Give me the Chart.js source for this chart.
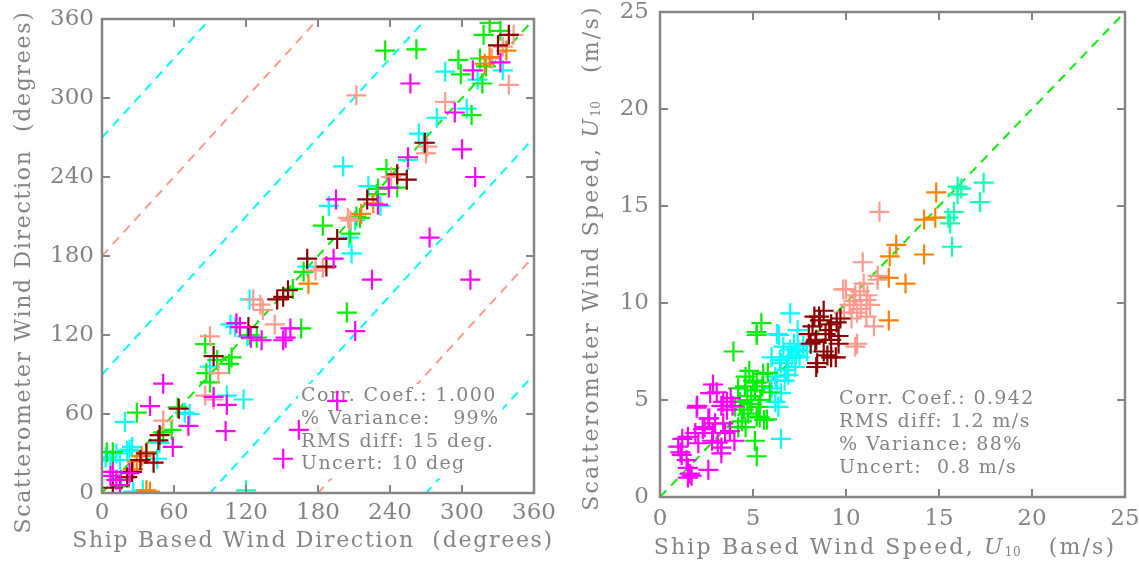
<!DOCTYPE html>
<html>
<head>
<meta charset="utf-8">
<title>Scatterometer vs ship winds</title>
<script src="https://cdn.jsdelivr.net/npm/chart.js@4.4.1/dist/chart.umd.min.js"></script>
<style>
    html, body { margin: 0; padding: 0; background: #fff; }
    #wrap { position: relative; width: 1139px; height: 566px; }
    canvas { position: absolute; top: 0; }
    #dirChart { left: 0; }
    #spdChart { left: 570px; }
</style>
</head>
<body>
<div id="wrap">
    <canvas id="dirChart" width="570" height="566"></canvas>
    <canvas id="spdChart" width="569" height="566"></canvas>
</div>
<script>
// ---- Wind direction (degrees): [ship, scatterometer], grouped by speed class colour
const dirMagenta = [[257,311],[294,289],[300,261],[311,240],[273,194],[307,162],[225,162],[211,123],[195,223],[193,178],
    [230,219],[239,232],[255,255],[309,321],[332,327],[153,118],[157,125],[151,116],[124,118],[112,129],[133,116],[115,126],
    [51,83],[40,66],[104,67],[103,47],[72,51],[59,35],[93,73],[151,26],[164,48],[196,70],[9,16],[12,10],[7,13],[15,6],[23,15]];
const dirGreen = [[236,336],[262,337],[297,329],[299,318],[308,287],[317,311],[323,357],[332,351],[318,348],[315,330],[320,324],
    [184,203],[204,137],[166,125],[237,246],[230,231],[246,232],[229,227],[212,210],[215,209],[207,197],[159,155],[168,168],
    [86,113],[90,84],[87,91],[96,101],[108,103],[106,98],[123,120],[129,118],[29,61],[58,48],[51,46],[4,31],[9,31],[16,10],[15,5],[63,65]];
const dirCyan = [[201,248],[189,218],[286,320],[334,321],[313,314],[304,292],[279,285],[264,273],[268,266],[255,253],[222,233],
    [232,218],[211,207],[208,182],[206,194],[171,172],[123,147],[107,128],[111,126],[121,119],[118,71],[104,74],[90,96],[73,60],
    [69,61],[19,54],[23,33],[25,35],[7,25],[15,25],[46,26],[48,38],[34,2],[26,1],[3,27],[12,30],[21,32]];
const dirDarkRed = [[339,348],[330,340],[269,266],[254,238],[246,242],[221,223],[196,193],[171,178],[187,172],[151,149],[146,147],
    [155,154],[122,126],[93,104],[64,64],[48,44],[47,40],[37,30],[43,23],[25,16],[21,12],[9,4],[32,25]];
const dirSalmon = [[212,302],[343,348],[339,310],[334,339],[286,297],[271,263],[241,240],[205,209],[207,207],[184,171],[178,169],
    [126,147],[132,143],[134,139],[144,128],[90,119],[86,74],[93,71],[97,91],[51,55],[270,258],[325,330]];
const dirOrange = [[37,31],[29,24],[26,18],[37,2],[40,1],[172,159],[323,331],[226,220],[216,212],[319,326],[337,336],[33,28]];
const dirAqua = [[120,2]];
const dirOffsets = [0, 90, -90, 180, -180, 270, -270];
const dirTicks = [0, 60, 120, 180, 240, 300, 360];
const dirStats = ['Corr. Coef.: 1.000', '% Variance:   99%', 'RMS diff: 15 deg.', 'Uncert: 10 deg'];

// ---- Wind speed (m/s)
const spdMagenta = [[3.05,5.4],[2.85,5.8],[1.97,4.6],[2.0,4.7],[2.7,5.35],[3.4,4.9],[3.8,5.1],[3.9,4.7],[3.3,4.7],[3.6,4.5],
    [2.6,4.05],[2.65,4.05],[2.96,3.8],[2.4,3.6],[3.4,3.8],[1.5,3.1],[1.9,3.3],[2.06,2.77],[0.98,2.6],[1.2,3.0],[1.1,2.3],
    [1.17,2.17],[1.43,1.9],[1.5,1.5],[1.6,1.2],[1.7,1.1],[2.6,1.4],[3.1,2.8],[3.5,3.3],[4.0,2.9],[3.76,3.4],[2.8,2.9],
    [3.3,2.25],[3.3,2.55],[2.85,3.3],[1.5,1.0],[2.3,3.5],[3.6,4.9]];
const spdGreen = [[5.2,8.35],[5.45,8.96],[5.2,8.5],[3.95,7.5],[5.1,2.9],[5.2,2.1],[4.57,5.7],[5.2,5.9],[4.3,4.9],[4.9,5.2],
    [5.3,4.65],[4.75,4.3],[5.2,4.15],[5.6,3.97],[4.4,3.9],[5.8,6.4],[5.5,5.7],[4.03,4.65],[4.2,3.6],[4.8,6.5],[5.55,6.35],
    [4.2,5.6],[5.36,4.1],[5.75,4.0],[4.6,6.2],[5.0,6.0],[4.7,5.0],[5.1,5.5],[5.9,5.4],[4.5,4.5],[5.4,5.0],[4.9,4.8],[4.6,3.6]];
const spdCyan = [[6.4,8.35],[6.0,7.2],[6.5,6.9],[6.9,7.2],[7.26,6.7],[6.2,6.2],[6.7,6.0],[6.5,5.35],[6.36,4.65],[6.5,3.0],
    [7.44,7.6],[7.0,9.47],[6.3,8.4],[7.4,8.6],[6.63,7.75],[7.2,7.9],[7.1,7.2],[7.5,7.2],[6.45,7.06],[6.8,6.55],[6.3,6.0],
    [7.3,7.3],[7.9,7.5],[6.2,4.9],[6.0,5.6],[7.0,7.6],[6.9,6.3],[7.7,7.8]];
const spdDarkRed = [[8.3,9.3],[8.6,9.1],[8.9,8.4],[8.0,8.4],[8.1,7.9],[8.4,8.1],[9.1,8.6],[9.5,9.0],[9.7,9.2],[9.2,8.1],
    [8.4,6.7],[9.2,7.2],[8.8,7.5],[9.6,7.9],[8.8,9.6],[8.55,9.3],[9.2,8.9],[8.35,8.0],[9.0,7.3],[9.45,7.2],[8.45,6.9],[9.6,8.3],[8.2,8.8]];
const spdSalmon = [[11.8,14.7],[10.9,12.1],[11.7,11.4],[10.95,11.0],[10.0,10.7],[10.4,10.1],[9.9,9.5],[10.8,9.7],[11.1,9.3],
    [10.6,7.9],[11.5,8.8],[11.15,10.4],[10.2,9.9],[11.7,11.2],[9.85,10.7],[10.75,10.6],[11.1,10.15],[10.6,9.5],[10.5,7.75],
    [10.3,9.2],[11.3,9.9],[10.5,10.4]];
const spdOrange = [[14.85,15.7],[14.2,14.3],[14.8,14.4],[12.7,13.0],[12.35,12.4],[14.2,12.5],[12.3,11.3],[13.2,11.0],[12.3,9.1]];
const spdAqua = [[17.4,16.2],[17.2,15.2],[16.2,15.9],[15.8,14.7],[15.5,14.4],[15.6,14.1],[15.7,12.9],[16.0,15.6],[16.0,16.0]];
const spdTicks = [0, 5, 10, 15, 20, 25];
const spdStats = ['Corr. Coef.: 0.942', 'RMS diff: 1.2 m/s', '% Variance: 88%', 'Uncert:  0.8 m/s'];

const COLORS = {
    magenta: '#ff00ff', green: '#00f000', cyan: '#00ffff', darkred: '#8e0000',
    salmon: '#ff9a8e', orange: '#ff8000', aqua: '#10ffb4'
};
const FONT = '"DejaVu Serif", "Liberation Serif", serif';
const GREY = '#858585';

function crossSet(points, color) {
    return {
        data: points.map(p => ({ x: p[0], y: p[1] })),
        pointStyle: 'cross',
        pointRadius: 10,
        pointHoverRadius: 10,
        pointBorderWidth: 2.2,
        borderColor: color,
        backgroundColor: color
    };
}

function refLine(offset, maxVal, color) {
    return {
        data: [{ x: 0, y: offset }, { x: maxVal, y: maxVal + offset }],
        showLine: true,
        isRef: true,
        pointRadius: 0,
        borderWidth: 2,
        borderColor: color,
        borderDash: [9, 7]
    };
}

// Draws the stats block on a white patch (under the crosses, over the dashed lines)
function drawStats(chart, opts) {
    const ctx = chart.ctx;
    ctx.save();
    ctx.font = opts.statsSize + 'px ' + FONT;
    ctx.letterSpacing = opts.statsSpacing + 'px';
    const w = Math.max(...opts.stats.map(s => ctx.measureText(s).width));
    const top = opts.statsY - 12;
    const h = (opts.stats.length - 1) * opts.statsGap + 26;
    ctx.fillStyle = '#fff';
    ctx.fillRect(opts.statsX - 3, top, w + 6, h);
    ctx.fillStyle = GREY;
    ctx.textBaseline = 'middle';
    opts.stats.forEach((s, i) => ctx.fillText(s, opts.statsX, opts.statsY + i * opts.statsGap));
    ctx.restore();
}

// Text made of parts, so U can be italic with a small subscript
function drawParts(ctx, parts, size, spacing) {
    const fontOf = p => (p.italic ? 'italic ' : '') + (p.sub ? Math.round(size * 0.55) : size) + 'px ' + FONT;
    let total = 0;
    parts.forEach(p => {
        ctx.font = fontOf(p);
        ctx.letterSpacing = (p.sub ? 0.5 : spacing) + 'px';
        total += ctx.measureText(p.t).width;
    });
    let x = -total / 2;
    parts.forEach(p => {
        ctx.font = fontOf(p);
        ctx.letterSpacing = (p.sub ? 0.5 : spacing) + 'px';
        ctx.fillText(p.t, x, p.sub ? size * 0.22 : 0);
        x += ctx.measureText(p.t).width;
    });
}

const framePlugin = {
    id: 'frame',
    beforeDatasetsDraw(chart) {
        chart.$statsDone = false;
    },
    beforeDatasetDraw(chart, args, opts) {
        if (chart.$statsDone || chart.data.datasets[args.index].isRef) return;
        drawStats(chart, opts);
        chart.$statsDone = true;
    },
    afterDatasetsDraw(chart, args, opts) {
        if (!chart.$statsDone) drawStats(chart, opts);
        const ctx = chart.ctx;
        const a = chart.chartArea;
        const xs = chart.scales.x, ys = chart.scales.y;
        ctx.save();
        ctx.strokeStyle = GREY;
        ctx.lineWidth = 2.5;
        ctx.strokeRect(a.left, a.top, a.right - a.left, a.bottom - a.top);
        ctx.lineWidth = 2;
        ctx.beginPath();
        opts.ticks.forEach(v => {
            const px = xs.getPixelForValue(v);
            ctx.moveTo(px, a.bottom); ctx.lineTo(px, a.bottom - 8);
            ctx.moveTo(px, a.top); ctx.lineTo(px, a.top + 8);
            const py = ys.getPixelForValue(v);
            ctx.moveTo(a.left, py); ctx.lineTo(a.left + 8, py);
            ctx.moveTo(a.right, py); ctx.lineTo(a.right - 8, py);
        });
        ctx.stroke();

        // axis titles
        ctx.fillStyle = GREY;
        ctx.textBaseline = 'middle';
        ctx.textAlign = 'left';
        ctx.save();
        ctx.translate(opts.xTitlePos[0], opts.xTitlePos[1]);
        drawParts(ctx, opts.xTitle, opts.titleSize, opts.titleSpacing);
        ctx.restore();
        ctx.save();
        ctx.translate(opts.yTitlePos[0], opts.yTitlePos[1]);
        ctx.rotate(-Math.PI / 2);
        drawParts(ctx, opts.yTitle, opts.titleSize, opts.titleSpacing);
        ctx.restore();
        ctx.restore();
    }
};

function noPad(s) {
    s.paddingLeft = s.paddingRight = s.paddingTop = s.paddingBottom = 0;
}

function makeChart(canvasId, cfg) {
    const tickFont = { family: FONT, size: 23, lineHeight: 1 };
    return new Chart(document.getElementById(canvasId), {
        type: 'scatter',
        data: { datasets: cfg.datasets },
        plugins: [framePlugin],
        options: {
            responsive: false,
            animation: false,
            events: [],
            layout: { autoPadding: false, padding: cfg.padding },
            scales: {
                x: {
                    type: 'linear', min: 0, max: cfg.max,
                    afterBuildTicks: s => { s.ticks = cfg.ticks.map(v => ({ value: v })); },
                    afterFit: s => { s.height = cfg.xHeight; noPad(s); },
                    grid: { display: false, drawTicks: false },
                    border: { display: false },
                    ticks: { color: GREY, font: tickFont, padding: cfg.xPad, maxRotation: 0, autoSkip: false }
                },
                y: {
                    type: 'linear', min: 0, max: cfg.max,
                    afterBuildTicks: s => { s.ticks = cfg.ticks.map(v => ({ value: v })); },
                    afterFit: s => { s.width = cfg.yWidth; noPad(s); },
                    grid: { display: false, drawTicks: false },
                    border: { display: false },
                    ticks: { color: GREY, font: tickFont, padding: cfg.yPad, autoSkip: false }
                }
            },
            plugins: {
                legend: { display: false },
                tooltip: { enabled: false },
                frame: cfg.frame
            }
        }
    });
}

document.addEventListener('DOMContentLoaded', () => {
    const dirLines = dirOffsets.map(off => {
        const c = off === 0 ? COLORS.green : (Math.abs(off) === 180 ? COLORS.salmon : COLORS.cyan);
        return refLine(off, 360, c);
    });
    makeChart('dirChart', {
        max: 360, ticks: dirTicks,
        padding: { top: 19, right: 36, left: 0, bottom: 0 },
        xHeight: 73, yWidth: 102, xPad: 9, yPad: 8,
        datasets: [
            crossSet(dirMagenta, COLORS.magenta),
            crossSet(dirDarkRed, COLORS.darkred),
            crossSet(dirOrange, COLORS.orange),
            crossSet(dirSalmon, COLORS.salmon),
            crossSet(dirGreen, COLORS.green),
            crossSet(dirCyan, COLORS.cyan),
            crossSet(dirAqua, COLORS.aqua),
            ...dirLines
        ],
        frame: {
            ticks: dirTicks,
            stats: dirStats, statsX: 301, statsY: 396, statsGap: 22.8, statsSize: 19, statsSpacing: 1.4,
            titleSize: 22, titleSpacing: 1.7,
            xTitle: [{ t: 'Ship Based Wind Direction  (degrees)' }],
            xTitlePos: [313, 541],
            yTitle: [{ t: 'Scatterometer Wind Direction  (degrees)' }],
            yTitlePos: [24, 272]
        }
    });

    makeChart('spdChart', {
        max: 25, ticks: spdTicks,
        padding: { top: 12, right: 14, left: 0, bottom: 0 },
        xHeight: 69, yWidth: 90, xPad: 11, yPad: 11,
        datasets: [
            crossSet(spdDarkRed, COLORS.darkred),
            crossSet(spdMagenta, COLORS.magenta),
            crossSet(spdGreen, COLORS.green),
            crossSet(spdCyan, COLORS.cyan),
            crossSet(spdSalmon, COLORS.salmon),
            crossSet(spdOrange, COLORS.orange),
            crossSet(spdAqua, COLORS.aqua),
            refLine(0, 25, COLORS.green)
        ],
        frame: {
            ticks: spdTicks,
            stats: spdStats, statsX: 269, statsY: 399, statsGap: 23, statsSize: 19, statsSpacing: 1.4,
            titleSize: 22, titleSpacing: 2.2,
            xTitle: [{ t: 'Ship Based Wind Speed, ' }, { t: 'U', italic: true }, { t: '10', sub: true }, { t: '   (m/s)' }],
            xTitlePos: [315, 548],
            yTitle: [{ t: 'Scatterometer Wind Speed, ' }, { t: 'U', italic: true }, { t: '10', sub: true }, { t: '   (m/s)' }],
            yTitlePos: [22, 258]
        }
    });
});
</script>
</body>
</html>
